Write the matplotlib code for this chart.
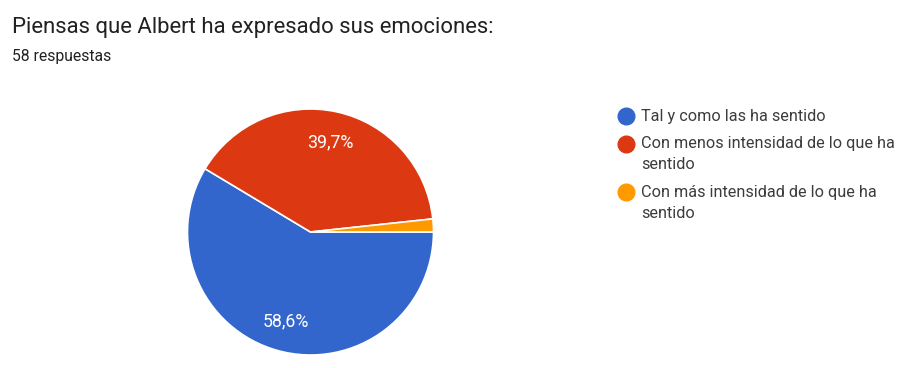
import matplotlib
matplotlib.use("Agg")
import matplotlib.pyplot as plt
from matplotlib.lines import Line2D

title = "Piensas que Albert ha expresado sus emociones:"
subtitle = "58 respuestas"
labels = ["Tal y como las ha sentido",
          "Con menos intensidad de lo que ha\nsentido",
          "Con más intensidad de lo que ha\nsentido"]
values = [58.6, 39.7, 1.7]
colors = ["#3366CC", "#DC3912", "#FF9900"]

plt.rcParams['font.family'] = ['Roboto', 'DejaVu Sans']

W, H = 912, 368
fig = plt.figure(figsize=(W / 100, H / 100), dpi=100)
fig.patch.set_facecolor("white")

def fx(px):
    return px / W

def fy(py):
    return 1 - py / H

fig.text(fx(12), fy(33), title, fontsize=15.9, color="#212121", va="baseline", ha="left")
fig.text(fx(12), fy(61), subtitle, fontsize=11.3, color="#212121", va="baseline", ha="left")

cx, cy, r = 310.5, 232, 123
ax = fig.add_axes([fx(cx - r), fy(cy + r), 2 * r / W, 2 * r / H])
ax.pie(values, colors=colors, startangle=0, counterclock=False,
       autopct=lambda p: (f"{p:.1f}".replace(".", ",") + "%") if p > 5 else "",
       pctdistance=0.75,
       wedgeprops=dict(edgecolor="white", linewidth=1.2),
       textprops=dict(color="white", fontsize=12.8))
ax.set_xlim(-1, 1)
ax.set_ylim(-1, 1)
ax.set_aspect("auto")
ax.axis("off")

# legend drawn manually (markers aligned with first line)
y = 116
line_h = 21
gap = 27.5
for lab, c in zip(labels, colors):
    fig.add_artist(Line2D([fx(626)], [fy(y)], transform=fig.transFigure,
                          marker="o", markersize=12, color=c, linestyle="none"))
    lines = lab.split("\n")
    for k, ln in enumerate(lines):
        fig.text(fx(641), fy(y + k * line_h), ln, fontsize=11.7, color="#3c3c3c",
                 va="center", ha="left")
    y += gap + (len(lines) - 1) * line_h

fig.savefig("out.png", dpi=100, facecolor="white")
